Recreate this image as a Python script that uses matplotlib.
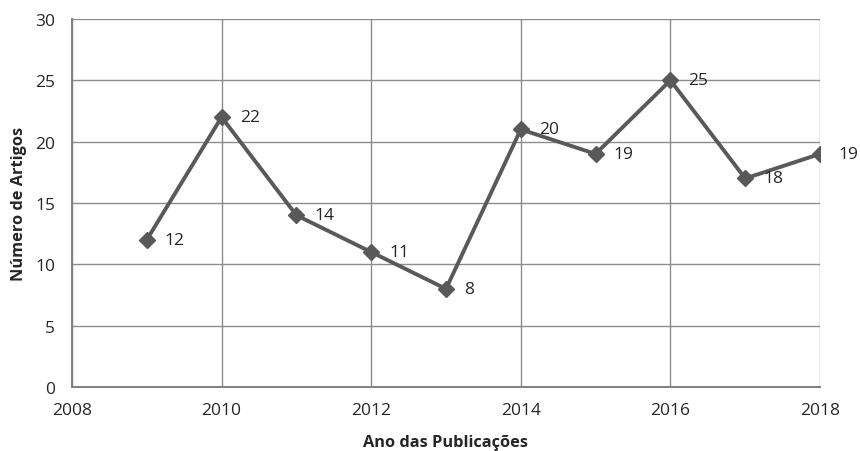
"""Line chart: number of articles per publication year."""

import matplotlib

matplotlib.use("Agg")
import matplotlib.pyplot as plt

anos = [2009, 2010, 2011, 2012, 2013, 2014, 2015, 2016, 2017, 2018]
artigos = [12, 22, 14, 11, 8, 21, 19, 25, 17, 19]
rotulos = ["12", "22", "14", "11", "8", "20", "19", "25", "18", "19"]
x_ticks = [2008, 2010, 2012, 2014, 2016, 2018]
y_ticks = [0, 5, 10, 15, 20, 25, 30]

plt.rcParams["font.family"] = ["Open Sans", "DejaVu Sans"]

fig = plt.figure(figsize=(8.6, 4.52), dpi=100)
ax = fig.add_axes([0.0837, 0.1416, 0.8698, 0.8142])

line_color = "#595959"
grid_color = "#8c8c8c"
text_color = "#262626"

ax.plot(anos, artigos, color=line_color, linewidth=2.8, marker="D",
        markersize=8, markerfacecolor=line_color, markeredgecolor=line_color,
        zorder=3)

for x, y, txt in zip(anos, artigos, rotulos):
    ax.annotate(txt, (x, y), xytext=(13, 0), textcoords="offset points",
                ha="left", va="center", fontsize=12.5, color=text_color)

ax.set_xlim(2008, 2018)
ax.set_ylim(0, 30)
ax.set_xticks(x_ticks)
ax.set_yticks(y_ticks)
ax.grid(True, color=grid_color, linewidth=1.0)
ax.set_axisbelow(True)
ax.tick_params(axis="x", length=0, labelsize=12.5, colors=text_color, pad=11)
ax.tick_params(axis="y", length=0, labelsize=12.5, colors=text_color, pad=12)

for side in ("top", "right"):
    ax.spines[side].set_visible(False)
for side in ("left", "bottom"):
    ax.spines[side].set_color("#7f7f7f")
    ax.spines[side].set_linewidth(1.4)

ax.set_xlabel("Ano das Publicações", fontsize=11.8, fontweight="bold",
              color=text_color, labelpad=11)
ax.set_ylabel("Número de Artigos", fontsize=11.8, fontweight="bold",
              color=text_color, labelpad=6)

fig.savefig("out.png", dpi=100)
